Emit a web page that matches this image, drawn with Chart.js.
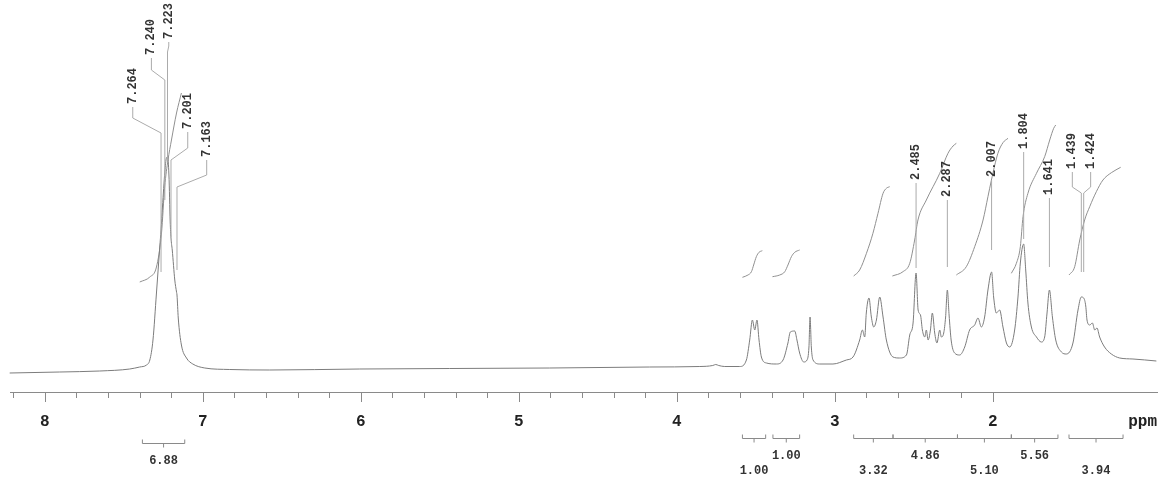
<!DOCTYPE html>
<html>
<head>
<meta charset="utf-8">
<script src="https://cdn.jsdelivr.net/npm/chart.js@4/dist/chart.umd.min.js"></script>
<style>
  html, body { margin: 0; padding: 0; background: #fff; }
  #wrap { width: 1158px; height: 477px; }
</style>
</head>
<body>
<div id="wrap"><canvas id="nmr" width="1158" height="477"></canvas></div>
<script>
// 1H NMR trace: [chemical shift (ppm), intensity]
const spectrum = [
  [8.222,19],[7.905,20],[7.652,21],[7.462,23],[7.399,25],[7.356,27],[7.335,32],[7.315,52],
  [7.293,99],[7.272,145],[7.264,162],[7.255,185],[7.240,220],[7.230,234],[7.223,235],[7.214,217],
  [7.206,170],[7.201,154],[7.193,142],[7.177,112],[7.166,100],[7.163,97],[7.155,74],[7.135,47],
  [7.103,34],[7.063,28],[6.987,24],[6.829,22.5],[6.576,22],[6.006,23],[5.437,23.5],[4.804,24],
  [4.171,25],[3.854,25.5],[3.772,26.5],[3.753,27.5],[3.734,26.5],[3.696,25.5],[3.601,25.5],
  [3.559,32],[3.538,52],[3.521,72],[3.506,62],[3.492,72],[3.479,52],[3.464,35],[3.432,29],
  [3.369,28],[3.327,32],[3.296,49],[3.281,60],[3.253,61],[3.239,52],[3.222,39],[3.196,30],
  [3.175,32],[3.163,45],[3.156,75],[3.148,45],[3.137,32],[3.095,28],[3.011,28],[2.926,32],
  [2.884,35],[2.842,52],[2.825,62],[2.810,55],[2.800,79],[2.783,94],[2.768,75],[2.753,65],
  [2.736,72],[2.715,95],[2.694,75],[2.673,52],[2.631,35],[2.589,34],[2.546,37],[2.525,57],
  [2.504,69],[2.485,119],[2.472,82],[2.457,77],[2.445,62],[2.430,55],[2.420,62],[2.409,52],
  [2.394,62],[2.382,79],[2.367,59],[2.353,49],[2.335,62],[2.325,55],[2.310,59],[2.298,75],
  [2.287,102],[2.276,77],[2.263,52],[2.241,39],[2.209,37],[2.177,45],[2.146,62],[2.114,67],
  [2.093,74],[2.072,65],[2.051,75],[2.030,102],[2.007,120],[1.994,95],[1.977,79],[1.956,82],
  [1.935,65],[1.913,49],[1.892,45],[1.861,62],[1.840,95],[1.825,129],[1.804,148],[1.791,122],
  [1.777,89],[1.755,65],[1.723,55],[1.692,50],[1.671,55],[1.656,79],[1.641,102],[1.622,75],
  [1.601,52],[1.565,40],[1.534,38],[1.492,49],[1.460,82],[1.439,95],[1.424,94],[1.411,86],
  [1.403,72],[1.386,67],[1.369,69],[1.354,62],[1.340,64],[1.323,55],[1.292,45],[1.249,38],
  [1.196,34],[1.112,33],[0.964,31]
];

// integral traces drawn above each multiplet: [ppm, level]
const integralAromatic = [[7.399,110],[7.335,115],[7.293,125],[7.261,159],[7.241,205],[7.220,232],[7.198,252],[7.166,279],[7.135,299]];
const integral350 = [[3.584,114.7],[3.549,117],[3.527,120.3],[3.513,127],[3.496,135.3],[3.479,139.7],[3.458,141.3]];
const integral325 = [[3.394,115.3],[3.348,117],[3.316,120.3],[3.296,127],[3.274,135.3],[3.253,139.7],[3.222,142]];
const integral275 = [[2.880,116],[2.842,122],[2.799,138.7],[2.758,158.7],[2.726,178.7],[2.694,198.7],[2.673,203.7],[2.652,205.3]];
const integral240 = [[2.635,116],[2.568,120.3],[2.525,128.7],[2.494,152],[2.473,172],[2.420,192],[2.335,218.7],[2.283,238.7],[2.251,246],[2.230,248.7]];
const integral205 = [[2.230,117],[2.167,125.3],[2.114,145.3],[2.061,172],[2.030,195.3],[2.008,212],[1.967,238.7],[1.935,249.3],[1.903,253.7]];
const integral175 = [[1.882,118.7],[1.850,128.7],[1.825,145.3],[1.808,175.3],[1.777,198.7],[1.723,218.7],[1.671,235.3],[1.639,252],[1.614,263.7],[1.601,267]];
const integral135 = [[1.517,117],[1.481,125.3],[1.449,152],[1.418,172],[1.386,185.3],[1.344,200.3],[1.302,212],[1.249,219.3],[1.190,224.7]];

// picked peaks (ppm)
const peakPpm = [7.264, 7.240, 7.223, 7.201, 7.163, 2.485, 2.287, 2.007, 1.804, 1.641, 1.439, 1.424];

// integration regions (ppm from, ppm to) and their integrals
const integralRanges = [[7.382,7.114],[3.584,3.437],[3.391,3.222],[2.880,2.631],[2.631,2.223],[2.223,1.882],[1.882,1.587],[1.517,1.175]];
const integralValues = [6.88, 1.00, 1.00, 3.32, 4.86, 5.10, 5.56, 3.94];

// axis tick labels
const tickValues = [8, 7, 6, 5, 4, 3, 2];
const axisUnit = 'ppm';

// ---- layout of the annotations (data units: x in ppm, y in intensity) ----
// text: x of rotated label, base: level where label starts,
// k1/k2: connector knees, end: level where the leader stops
const peakLabelLayout = [
  { text: 7.443, base: 285, k1: 274, k2: 259, end: 120 },
  { text: 7.325, base: 334, k1: 322, k2: 312, end: 192 },
  { text: 7.215, base: 350, k1: 346, k2: 340, end: 232 },
  { text: 7.095, base: 260, k1: 244, k2: 232, end: 155 },
  { text: 6.975, base: 232, k1: 217, k2: 205, end: 122 },
  { text: 2.485, base: 209, k1: 205, k2: 203, end: 124 },
  { text: 2.287, base: 192, k1: 188, k2: 186, end: 125 },
  { text: 2.007, base: 212, k1: 208, k2: 206, end: 142 },
  { text: 1.804, base: 240, k1: 236, k2: 234, end: 153 },
  { text: 1.641, base: 194, k1: 190, k2: 188, end: 125 },
  { text: 1.496, base: 220, k1: 205, k2: 199, end: 120 },
  { text: 1.380, base: 220, k1: 205, k2: 199, end: 120 }
];
// bracket row (pixel offset below axis) and label row for each integral
const bracketLayout = [
  { bar: 51, label: 69 },
  { bar: 46, label: 79 },
  { bar: 46, label: 64 },
  { bar: 46, label: 79 },
  { bar: 46, label: 64 },
  { bar: 46, label: 79 },
  { bar: 46, label: 64 },
  { bar: 46, label: 79 }
];

const MONO = '"Liberation Mono", "DejaVu Sans Mono", monospace';
const toXY = pts => pts.map(p => ({ x: p[0], y: p[1] }));

const lineSet = (pts, color, width) => ({
  data: toXY(pts),
  showLine: true,
  borderColor: color,
  borderWidth: width,
  pointRadius: 0,
  fill: false,
  clip: false,
  cubicInterpolationMode: 'monotone'
});

const annotations = {
  id: 'nmrAnnotations',
  afterDraw(chart) {
    const { ctx, scales: { x, y }, chartArea } = chart;
    const axisY = chartArea.bottom;
    ctx.save();

    // tick marks: long at whole ppm, short every 0.2 ppm
    ctx.strokeStyle = '#8a8a8a';
    ctx.lineWidth = 1;
    for (let i = 10; i <= 41; i++) {
      const v = i / 5;
      const px = Math.round(x.getPixelForValue(v)) + 0.5;
      const len = (i % 5 === 0) ? 10 : 6;
      ctx.beginPath();
      ctx.moveTo(px, axisY);
      ctx.lineTo(px, axisY + len);
      ctx.stroke();
    }

    // unit label at the right end of the axis
    ctx.fillStyle = '#222';
    ctx.font = 'bold 16px ' + MONO;
    ctx.textAlign = 'right';
    ctx.textBaseline = 'middle';
    ctx.fillText(axisUnit, chart.width - 1, axisY + 30);

    // peak labels with leaders
    ctx.strokeStyle = '#ababab';
    ctx.lineWidth = 1;
    ctx.font = 'bold 12px ' + MONO;
    peakPpm.forEach((p, i) => {
      const L = peakLabelLayout[i];
      const tx = x.getPixelForValue(L.text);
      const px = x.getPixelForValue(p);
      ctx.beginPath();
      ctx.moveTo(tx, y.getPixelForValue(L.base));
      ctx.lineTo(tx, y.getPixelForValue(L.k1));
      ctx.lineTo(px, y.getPixelForValue(L.k2));
      ctx.lineTo(px, y.getPixelForValue(L.end));
      ctx.stroke();

      ctx.save();
      ctx.translate(tx, y.getPixelForValue(L.base) - 3);
      ctx.rotate(-Math.PI / 2);
      ctx.fillStyle = '#333';
      ctx.textAlign = 'left';
      ctx.textBaseline = 'middle';
      ctx.fillText(p.toFixed(3), 0, 0);
      ctx.restore();
    });

    // integration brackets under the axis
    ctx.strokeStyle = '#8a8a8a';
    ctx.fillStyle = '#333';
    ctx.font = 'bold 12px ' + MONO;
    ctx.textAlign = 'center';
    ctx.textBaseline = 'middle';
    integralRanges.forEach((r, i) => {
      const B = bracketLayout[i];
      const x0 = x.getPixelForValue(r[0]);
      const x1 = x.getPixelForValue(r[1]);
      const xm = (x0 + x1) / 2;
      const by = Math.round(axisY + B.bar) + 0.5;
      ctx.beginPath();
      ctx.moveTo(x0, by - 4);
      ctx.lineTo(x0, by);
      ctx.lineTo(x1, by);
      ctx.lineTo(x1, by - 4);
      ctx.moveTo(xm, by);
      ctx.lineTo(xm, by + 4);
      ctx.stroke();
      ctx.fillText(integralValues[i].toFixed(2), xm, axisY + B.label);
    });

    ctx.restore();
  }
};

new Chart(document.getElementById('nmr'), {
  type: 'scatter',
  data: {
    datasets: [
      lineSet(spectrum, '#7c7c7c', 1),
      lineSet(integralAromatic, '#909090', 1),
      lineSet(integral350, '#909090', 1),
      lineSet(integral325, '#909090', 1),
      lineSet(integral275, '#909090', 1),
      lineSet(integral240, '#909090', 1),
      lineSet(integral205, '#909090', 1),
      lineSet(integral175, '#909090', 1),
      lineSet(integral135, '#909090', 1)
    ]
  },
  options: {
    responsive: false,
    animation: false,
    devicePixelRatio: 1,
    events: [],
    layout: { padding: { left: 10, right: 1, top: 0, bottom: 0 } },
    plugins: { legend: { display: false }, tooltip: { enabled: false } },
    scales: {
      x: {
        type: 'linear',
        reverse: true,
        min: 0.96,
        max: 8.22,
        position: 'bottom',
        afterBuildTicks: s => { s.ticks = tickValues.map(v => ({ value: v })); },
        afterFit: s => { s.height = 85; },
        grid: { display: false, drawTicks: false },
        border: { display: true, color: '#8a8a8a', width: 1 },
        ticks: {
          padding: 20,
          autoSkip: false,
          maxRotation: 0,
          color: '#222',
          font: { family: MONO, size: 16, weight: 'bold' },
          callback: v => String(v)
        }
      },
      y: { display: false, min: 0, max: 392 }
    }
  },
  plugins: [annotations]
});
</script>
</body>
</html>
